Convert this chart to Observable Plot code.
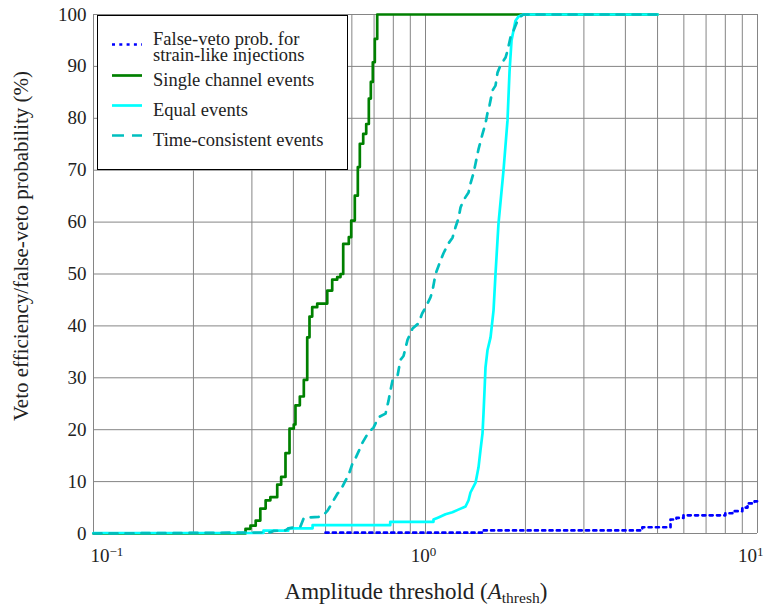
<!DOCTYPE html>
<html>
<head>
<meta charset="utf-8">
<script src="https://cdn.jsdelivr.net/npm/d3@7"></script>
<script src="https://cdn.jsdelivr.net/npm/@observablehq/plot@0.6"></script>
<style>
  html, body { margin: 0; padding: 0; background: #fff; }
  #chart { width: 764px; height: 606px; }
</style>
</head>
<body>
<div id="chart"></div>
<script>
// ---- Axis / grid values ----
const xGrid = [0.1, 0.2, 0.3, 0.4, 0.5, 0.6, 0.7, 0.8, 0.9, 1, 2, 3, 4, 5, 6, 7, 8, 9, 10];
const xTicks = [0.1, 1, 10];
const xTickExponents = ["\u22121", "0", "1"];
const yTicks = [0, 10, 20, 30, 40, 50, 60, 70, 80, 90, 100];

// ---- Series labels ----
const seriesNames = ["False-veto prob. for\nstrain-like injections", "Single channel events", "Equal events", "Time-consistent events"];

// ---- False-veto probability for strain-like injections (blue dotted, stepped) ----
const falseVetoThresh = [0.5, 1.485, 4.5, 5.47, 5.7, 5.985, 8.0, 8.4, 9.0, 9.33, 9.8, 10];
const falseVetoProb   = [0.15, 0.6, 1.2, 2.7, 3.0, 3.5, 3.9, 4.3, 5.0, 5.8, 6.2, 6.2];

// ---- Single channel events (green, stepped) ----
const singleThresh = [0.1, 0.287, 0.297, 0.308, 0.318, 0.330, 0.341, 0.3576, 0.3675, 0.3787, 0.3894, 0.4011, 0.4058, 0.4183, 0.4300, 0.4403, 0.4473, 0.4558, 0.4719, 0.5059, 0.5236, 0.5420, 0.5546, 0.5651, 0.5875, 0.5974, 0.6124, 0.6254, 0.6341, 0.6492, 0.6629, 0.6750, 0.6844, 0.6939, 0.7036, 0.7154, 5.0];
const singleEff    = [0, 0.9, 1.5, 2.5, 4.8, 6.4, 7.0, 9.4, 10.9, 15.5, 20.2, 21.0, 24.7, 26.4, 29.6, 37.8, 41.8, 43.6, 44.3, 46.8, 48.9, 49.4, 50.0, 55.8, 57.1, 60.3, 65.1, 70.6, 75.1, 77.0, 78.9, 83.8, 87.0, 90.8, 95.3, 100, 100];

// ---- Equal events (cyan solid) ----
const equalThresh = [0.1, 0.325, 0.325, 0.386, 0.386, 0.457, 0.457, 0.783, 0.783, 1.057, 1.057, 1.094, 1.149, 1.205, 1.256, 1.32, 1.348, 1.366, 1.415, 1.444, 1.464, 1.485, 1.495, 1.506, 1.516, 1.537, 1.57, 1.603, 1.625, 1.659, 1.718, 1.766, 1.791, 1.816, 1.866, 1.906, 1.973, 5.0];
const equalEff    = [0.1, 0.1, 0.55, 0.55, 1.0, 1.0, 1.6, 1.6, 2.25, 2.25, 2.7, 3.1, 3.7, 4.1, 4.6, 5.2, 6.4, 7.9, 9.8, 12.7, 16, 19.3, 23, 27.6, 32, 35.3, 37.8, 43, 50, 59.7, 70, 79.6, 89, 95, 98.8, 99.6, 100, 100];

// ---- Time-consistent events (teal dashed) ----
const timeThresh = [0.1, 0.34, 0.3485, 0.3787, 0.3867, 0.4204, 0.43, 0.4443, 0.4762, 0.49, 0.507, 0.5433, 0.5546, 0.5741, 0.5862, 0.6027, 0.6154, 0.6371, 0.646, 0.6735, 0.6973, 0.722, 0.7579, 0.7739, 0.78, 0.7956, 0.8237, 0.841, 0.8587, 0.8828, 0.914, 0.953, 0.977, 1.0, 1.035, 1.05, 1.072, 1.11, 1.133, 1.173, 1.206, 1.231, 1.257, 1.275, 1.301, 1.348, 1.366, 1.395, 1.415, 1.444, 1.485, 1.516, 1.537, 1.559, 1.592, 1.625, 1.648, 1.682, 1.742, 1.766, 1.803, 1.841, 1.893, 1.933, 1.973, 5.0];
const timeEff    = [0, 0.2, 0.5, 0.6, 1.0, 1.4, 3.0, 3.1, 3.2, 3.4, 4.4, 7.7, 8.3, 10.2, 11.2, 13.5, 14.5, 16.6, 17.5, 19.5, 20.4, 22.4, 23.1, 25.6, 26.8, 29.5, 30.4, 33.5, 34.2, 37.3, 39.5, 40.5, 42.4, 43.5, 45.5, 46.8, 50, 52.6, 54, 55.9, 57, 59, 60.7, 62.8, 64.2, 65.7, 67.4, 69.4, 71.3, 74, 77, 79, 81, 82.5, 85.4, 86.3, 88.8, 90.2, 91.7, 93, 95.6, 96.9, 98.8, 99.6, 100, 100];

// ---- Styles ----
const colors = ["#0000ff", "#008000", "#00ffff", "#00bfbf"];
const dashes = ["3,4.3", null, null, "8,8"];
const FONT = "Liberation Serif, DejaVu Serif, serif";

const toRows = (xs, ys) => xs.map((x, i) => ({x, y: ys[i]}));
const falseVeto = toRows(falseVetoThresh, falseVetoProb);
const single = toRows(singleThresh, singleEff);
const equal = toRows(equalThresh, equalEff);
const timeCons = toRows(timeThresh, timeEff);

const plot = Plot.plot({
  width: 764,
  height: 606,
  marginLeft: 93,
  marginRight: 7,
  marginTop: 14,
  marginBottom: 73,
  style: {fontFamily: FONT, fontSize: "19px", background: "#fff", color: "#222"},
  x: {type: "log", domain: [0.1, 10]},
  y: {domain: [0, 100]},
  marks: [
    Plot.ruleX(xGrid, {stroke: "#858585", strokeWidth: 1, strokeOpacity: 1}),
    Plot.ruleY(yTicks, {stroke: "#858585", strokeWidth: 1, strokeOpacity: 1}),
    Plot.axisX({ticks: xTicks, tickSize: 0, tickPadding: 15, label: null,
      tickFormat: (d) => xTickExponents[xTicks.indexOf(d)]}),
    Plot.axisY({ticks: yTicks, tickSize: 0, tickPadding: 7, label: null}),
    Plot.line(single, {x: "x", y: "y", curve: "step-after", stroke: colors[1], strokeWidth: 2.7}),
    Plot.line(equal, {x: "x", y: "y", stroke: colors[2], strokeWidth: 2.7}),
    Plot.line(timeCons, {x: "x", y: "y", stroke: colors[3], strokeWidth: 2.7, strokeDasharray: dashes[3]}),
    Plot.line(falseVeto, {x: "x", y: "y", curve: "step-after", stroke: colors[0], strokeWidth: 2.7, strokeDasharray: dashes[0]})
  ]
});

document.getElementById("chart").appendChild(plot);
const svg = d3.select(plot);

// x tick labels as 10 with superscript exponent; keep the edge labels inside the picture
const anchors = ["start", "middle", "end"];
const shifts = [-3, -2, 6];
svg.selectAll('g[aria-label="x-axis tick label"] text').each(function () {
  const t = d3.select(this);
  const exp = t.text();
  const i = xTickExponents.indexOf(exp);
  t.text("");
  t.attr("text-anchor", anchors[i]).attr("dx", shifts[i]);
  t.append("tspan").text("10");
  t.append("tspan").attr("dy", "-0.45em").attr("font-size", "13px").text(exp);
});

// x axis title
const xt = svg.append("text")
  .attr("x", 416).attr("y", 599)
  .attr("text-anchor", "middle")
  .attr("font-family", FONT).attr("font-size", "23px").attr("fill", "#222");
xt.append("tspan").text("Amplitude threshold (");
xt.append("tspan").attr("font-style", "italic").text("A");
xt.append("tspan").attr("dy", "4").attr("font-size", "15.5px").text("thresh");
xt.append("tspan").attr("dy", "-4").text(")");

// y axis title
svg.append("text")
  .attr("transform", "translate(28,246) rotate(-90)")
  .attr("text-anchor", "middle")
  .attr("font-family", FONT).attr("font-size", "21px").attr("fill", "#222")
  .text("Veto efficiency/false-veto probability (%)");

// legend
const lg = svg.append("g").attr("font-family", FONT).attr("font-size", "18.5px")
  .attr("fill", "#222").attr("text-anchor", "start");
lg.append("rect").attr("x", 97.5).attr("y", 15.5).attr("width", 250).attr("height", 154)
  .attr("fill", "#fff").attr("stroke", "#000").attr("stroke-width", 1);
const sampleY = [44.5, 75.5, 105.5, 135.5];
const textY = [45, 86, 116, 146];
seriesNames.forEach((name, i) => {
  lg.append("line").attr("x1", 112).attr("x2", 142).attr("y1", sampleY[i]).attr("y2", sampleY[i])
    .attr("stroke", colors[i]).attr("stroke-width", 2.7)
    .attr("stroke-dasharray", i === 3 ? "12,8" : dashes[i]);
  const t = lg.append("text").attr("x", 153).attr("y", textY[i]).attr("text-anchor", "start");
  name.split("\n").forEach((ln, j) => {
    t.append("tspan").attr("x", 153).attr("dy", j === 0 ? 0 : 16).text(ln);
  });
});
</script>
</body>
</html>
